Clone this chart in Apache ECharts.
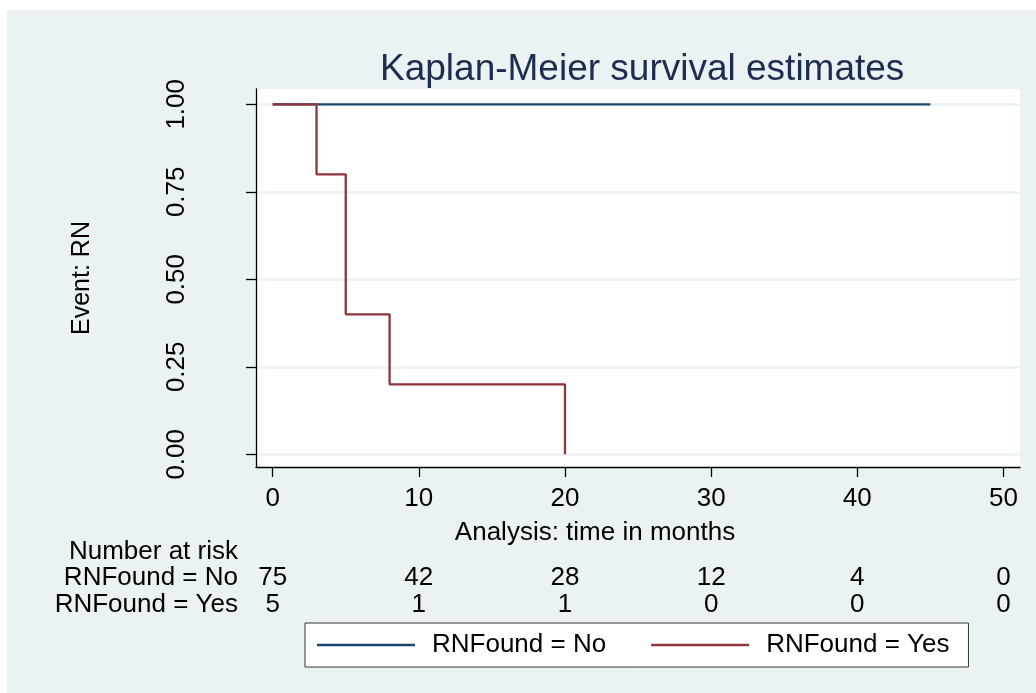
<!DOCTYPE html>
<html>
<head>
<meta charset="utf-8">
<script src="https://cdn.jsdelivr.net/npm/echarts@6/dist/echarts.min.js"></script>
<style>
html,body{margin:0;padding:0;background:#fff;}
#chart{width:1036px;height:693px;}
</style>
</head>
<body>
<div id="chart"></div>
<script>
// ---- data ----
const timesNo = [0, 45];
const survNo = [1, 1];
const timesYes = [0, 3, 5, 8, 20];
const survYes = [1, 0.8, 0.4, 0.2, 0];
const xTicks = [0, 10, 20, 30, 40, 50];
const yTicks = [0, 0.25, 0.5, 0.75, 1];
const riskNo = [75, 42, 28, 12, 4, 0];
const riskYes = [5, 1, 1, 0, 0, 0];
const seriesNames = ['RNFound = No', 'RNFound = Yes'];
const titleText = 'Kaplan-Meier survival estimates';
const xTitle = 'Analysis: time in months';
const yTitle = 'Event: RN';
const riskTitle = 'Number at risk';

// ---- style ----
const FONT = 'Liberation Sans, Arial, sans-serif';
const BG = '#EAF2F3';
const C_NO = '#1A476F';
const C_YES = '#90353B';
const XMIN = -1.14, XMAX = 51.13;
const YMIN = -0.0363, YMAX = 1.0437;

const pairs = (xs, ys) => xs.map((x, i) => [x, ys[i]]);

function riskAxis(name, values, offset) {
  return {
    type: 'value', gridIndex: 0, position: 'bottom', offset: offset,
    min: XMIN, max: XMAX,
    name: name, nameLocation: 'start', nameGap: 18,
    nameTextStyle: {fontFamily: FONT, fontSize: 26, color: '#000', align: 'right', verticalAlign: 'middle'},
    axisLine: {show: false, onZero: false},
    axisTick: {show: false},
    splitLine: {show: false},
    axisLabel: values ? {
      show: true, customValues: xTicks, margin: 0, verticalAlign: 'middle',
      fontFamily: FONT, fontSize: 26, color: '#000',
      formatter: v => String(values[xTicks.indexOf(v)])
    } : {show: false}
  };
}

const chart = echarts.init(document.getElementById('chart'), null, {renderer: 'canvas'});
chart.setOption({
  animation: false,
  backgroundColor: '#fff',
  graphic: [{
    type: 'rect', left: 7, top: 10, z: -10, silent: true,
    shape: {width: 1029, height: 683}, style: {fill: BG}
  }],
  title: {
    text: titleText, left: 380, top: 51, padding: 0,
    textStyle: {fontFamily: FONT, fontSize: 37, lineHeight: 37, fontWeight: 'normal', color: '#1E2D4F'}
  },
  grid: {
    left: 256, top: 89, width: 764, height: 378,
    show: true, backgroundColor: '#fff', borderWidth: 0
  },
  legend: {
    left: 305, top: 623, orient: 'horizontal',
    backgroundColor: '#fff', borderColor: '#333', borderWidth: 1,
    padding: [9, 19, 9, 12], itemWidth: 98, itemHeight: 2.3, itemGap: 45,
    icon: 'rect',
    textStyle: {fontFamily: FONT, fontSize: 26, color: '#000', padding: [0, 0, 0, 12]},
    data: seriesNames
  },
  xAxis: [
    {
      type: 'value', gridIndex: 0, position: 'bottom', min: XMIN, max: XMAX,
      name: xTitle, nameLocation: 'middle', nameGap: 66,
      nameTextStyle: {fontFamily: FONT, fontSize: 26, color: '#000', verticalAlign: 'middle', padding: [0, 86, 0, 0]},
      axisLine: {show: true, onZero: false, lineStyle: {color: '#000', width: 1.3}},
      axisTick: {show: true, customValues: xTicks, length: 10, lineStyle: {color: '#000', width: 1.3}},
      axisLabel: {customValues: xTicks, margin: 32, verticalAlign: 'middle', fontFamily: FONT, fontSize: 26, color: '#000'},
      splitLine: {show: false}
    },
    riskAxis(riskTitle, null, 85),
    riskAxis(seriesNames[0], riskNo, 111),
    riskAxis(seriesNames[1], riskYes, 138)
  ],
  yAxis: {
    type: 'value', min: YMIN, max: YMAX,
    name: yTitle, nameLocation: 'middle', nameGap: 174,
    nameTextStyle: {fontFamily: FONT, fontSize: 25, color: '#000', verticalAlign: 'middle'},
    axisLine: {show: true, onZero: false, lineStyle: {color: '#000', width: 1.3}},
    axisTick: {show: true, customValues: yTicks, length: 10, lineStyle: {color: '#000', width: 1.3}},
    axisLabel: {customValues: yTicks, rotate: 90, margin: 79, verticalAlign: 'middle',
      fontFamily: FONT, fontSize: 26, color: '#000', formatter: v => v.toFixed(2)},
    splitLine: {show: true, lineStyle: {color: BG, width: 2.5}}
  },
  series: [
    {
      name: seriesNames[0], type: 'line', xAxisIndex: 0, yAxisIndex: 0,
      data: pairs(timesNo, survNo), symbol: 'none', showSymbol: false,
      color: C_NO, lineStyle: {color: C_NO, width: 2.3}, z: 2
    },
    {
      name: seriesNames[1], type: 'line', xAxisIndex: 0, yAxisIndex: 0, step: 'end',
      data: pairs(timesYes, survYes), symbol: 'none', showSymbol: false,
      color: C_YES, lineStyle: {color: C_YES, width: 2.3}, z: 3
    }
  ]
});
</script>
</body>
</html>
